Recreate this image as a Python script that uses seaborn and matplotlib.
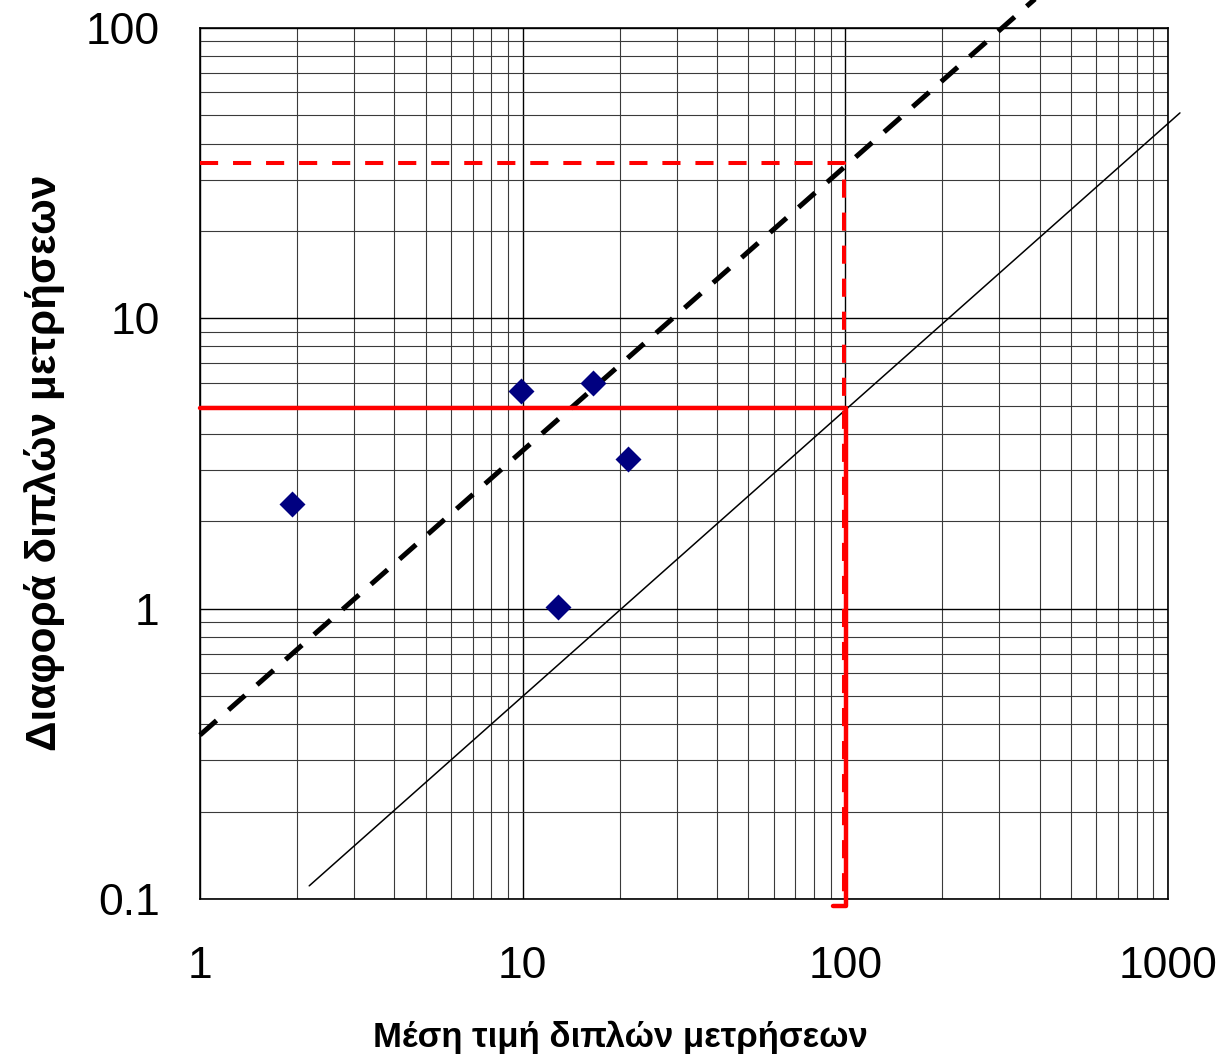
import matplotlib
matplotlib.use("Agg")
import matplotlib.pyplot as plt
import seaborn as sns
import pandas as pd
from matplotlib.ticker import FixedLocator, LogLocator, NullFormatter

# ---- data ----
mean_vals = [1.93, 9.9, 16.5, 21.2, 12.9]
diff_vals = [2.3, 5.6, 6.0, 3.28, 1.01]

dashed_x = [1.0, 400.0]
dashed_y = [0.367, 130.0]

thin_x = [2.18, 1089.0]
thin_y = [0.111, 51.0]

red_solid_x = [1.0, 100.8, 100.8, 91.5]
red_solid_y = [4.93, 4.93, 0.0946, 0.0946]

red_dash_x = [1.0, 99.4, 99.4]
red_dash_y = [34.4, 34.4, 0.0946]

x_ticks = [1, 10, 100, 1000]
x_tick_labels = ["1", "10", "100", "1000"]
y_ticks = [0.1, 1, 10, 100]
y_tick_labels = ["0.1", "1", "10", "100"]

x_label = "Μέση τιμή διπλών μετρήσεων"
y_label = "Διαφορά διπλών μετρήσεων"

# ---- style ----
sns.set_theme(style="white")
plt.rcParams["font.family"] = ["Liberation Sans", "DejaVu Sans"]

W, H = 1223, 1063
fig = plt.figure(figsize=(W / 100, H / 100), dpi=100)
ax = fig.add_axes([200 / W, 1 - 899 / H, 968 / W, 871 / H])

ax.set_xscale("log")
ax.set_yscale("log")
ax.set_xlim(1, 1000)
ax.set_ylim(0.1, 100)

# grid
ax.xaxis.set_minor_locator(LogLocator(base=10, subs=range(2, 10)))
ax.yaxis.set_minor_locator(LogLocator(base=10, subs=range(2, 10)))
ax.xaxis.set_minor_formatter(NullFormatter())
ax.yaxis.set_minor_formatter(NullFormatter())
ax.grid(True, which="major", color="black", linewidth=1.0)
ax.grid(True, which="minor", color="#3a3a3a", linewidth=0.8)
ax.set_axisbelow(True)

# lines
df_d = pd.DataFrame({"x": dashed_x, "y": dashed_y})
sns.lineplot(data=df_d, x="x", y="y", ax=ax, color="black", linewidth=3.6,
             linestyle=(0, (4.4, 3.2)), sort=False, estimator=None, clip_on=False,
             zorder=4)

df_t = pd.DataFrame({"x": thin_x, "y": thin_y})
sns.lineplot(data=df_t, x="x", y="y", ax=ax, color="black", linewidth=1.1,
             sort=False, estimator=None, clip_on=False, zorder=4)

df_rs = pd.DataFrame({"x": red_solid_x, "y": red_solid_y})
sns.lineplot(data=df_rs, x="x", y="y", ax=ax, color="#ff0000", linewidth=3.2,
             sort=False, estimator=None, clip_on=False, zorder=5)

df_rd = pd.DataFrame({"x": red_dash_x, "y": red_dash_y})
sns.lineplot(data=df_rd, x="x", y="y", ax=ax, color="#ff0000", linewidth=2.9,
             linestyle=(0, (4.5, 3.7)), sort=False, estimator=None, clip_on=False,
             zorder=5)

# points
df_p = pd.DataFrame({"mean": mean_vals, "diff": diff_vals})
sns.scatterplot(data=df_p, x="mean", y="diff", ax=ax, marker="D", s=175,
                color="#000080", edgecolor="#000080", linewidth=0, zorder=6)

ax.xaxis.set_major_locator(FixedLocator(x_ticks))
ax.yaxis.set_major_locator(FixedLocator(y_ticks))
ax.set_xticklabels(x_tick_labels)
ax.set_yticklabels(y_tick_labels)
ax.tick_params(axis="both", which="major", direction="out", length=10,
               width=1.0, color="black", labelsize=32, labelcolor="black")
ax.tick_params(axis="x", which="major", pad=24)
ax.tick_params(axis="y", which="major", pad=19)
ax.tick_params(axis="both", which="minor", length=0)

for s in ax.spines.values():
    s.set_color("black")
    s.set_linewidth(1.2)

ax.set_xlabel("")
ax.set_ylabel("")
fig.text(620 / W, 1 - 1037 / H, x_label, ha="center", va="center",
         fontsize=25, fontweight="bold", color="black")
fig.text(45 / W, 1 - 463 / H, y_label, ha="center", va="center",
         rotation=90, fontsize=30.5, fontweight="bold", color="black")

fig.savefig("out.png", dpi=100)
